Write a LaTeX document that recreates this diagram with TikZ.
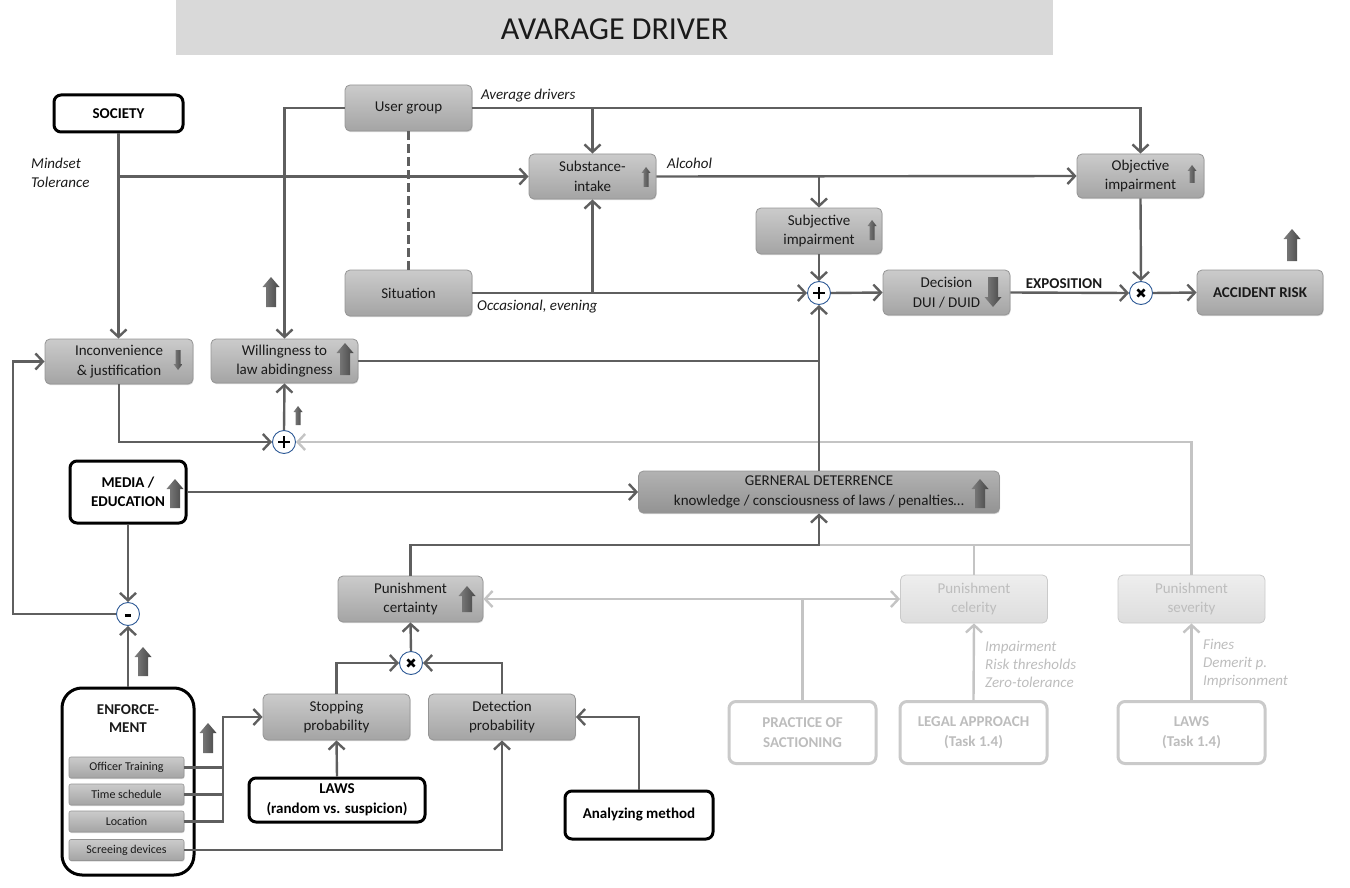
\documentclass[tikz,border=0pt]{standalone}
\usepackage{fontspec}
\setmainfont{Carlito}
\usetikzlibrary{arrows.meta,shadows}
\definecolor{ln}{HTML}{5F5F5F}
\definecolor{lt}{HTML}{C4C4C4}
\definecolor{boxtop}{HTML}{CBCBCB}
\definecolor{boxbot}{HTML}{A4A4A4}
\definecolor{boxbd}{HTML}{959595}
\definecolor{gdtop}{HTML}{B2B2B2}
\definecolor{gdbot}{HTML}{939393}
\definecolor{ftop}{HTML}{EEEEEE}
\definecolor{fbot}{HTML}{DDDDDD}
\definecolor{fbd}{HTML}{CACACA}
\definecolor{ftxt}{HTML}{BDBDBD}
\definecolor{titlebg}{HTML}{D9D9D9}
\definecolor{circ}{HTML}{2E5A96}
\definecolor{arrA}{HTML}{808080}
\definecolor{arrB}{HTML}{474747}
\definecolor{txt}{HTML}{1A1A1A}
\newcommand{\UpA}[6]{\shade[left color=arrA,right color=arrB] (#1-#4,#3) -- (#1+#4,#3) -- (#1+#4,#2+#6) -- (#1+#5,#2+#6) -- (#1,#2) -- (#1-#5,#2+#6) -- (#1-#4,#2+#6) -- cycle;}
\newcommand{\DnA}[6]{\shade[left color=arrA,right color=arrB] (#1-#4,#2) -- (#1+#4,#2) -- (#1+#4,#3-#6) -- (#1+#5,#3-#6) -- (#1,#3) -- (#1-#5,#3-#6) -- (#1-#4,#3-#6) -- cycle;}
\tikzset{
  wh/.style 2 args={minimum width=#1pt, minimum height=#2pt},
  gbox/.style={rectangle, rounded corners=5pt, top color=boxtop, bottom color=boxbot, draw=boxbd, line width=0.8pt, align=center, inner sep=0pt, text=txt,
     drop shadow={shadow xshift=0.6pt, shadow yshift=-1.2pt, opacity=0.3}},
  gdbox/.style={gbox, top color=gdtop, bottom color=gdbot},
  fbox/.style={rectangle, rounded corners=5pt, top color=ftop, bottom color=fbot, draw=fbd, line width=0.8pt, align=center, inner sep=0pt, text=ftxt},
  wbox/.style={rectangle, rounded corners=7pt, fill=white, draw=black, line width=3pt, align=center, inner sep=0pt, font=\bfseries\fontsize{15}{19.5}\selectfont},
  fwbox/.style={wbox, draw=fbd, text=ftxt},
  sbox/.style={rectangle, rounded corners=2pt, top color=boxtop, bottom color=boxbot, draw=boxbd, line width=0.6pt, inner sep=0pt, minimum width=115pt, minimum height=21pt, font=\fontsize{12}{14}\selectfont, text=txt,
     drop shadow={shadow xshift=0.5pt, shadow yshift=-1pt, opacity=0.3}},
  opn/.style={circle, draw=circ, line width=0.9pt, fill=white, minimum size=23pt, inner sep=0pt},
  plussym/.style={opn, path picture={
     \draw[line width=2.7pt,black] ([xshift=-6pt]path picture bounding box.center) -- ([xshift=6pt]path picture bounding box.center);
     \draw[line width=2.7pt,black] ([yshift=-6pt]path picture bounding box.center) -- ([yshift=6pt]path picture bounding box.center);}},
  timessym/.style={opn, path picture={
     \draw[line width=2.5pt,black] ([shift={(-3.6pt,-3.6pt)}]path picture bounding box.center) -- ([shift={(3.6pt,3.6pt)}]path picture bounding box.center);
     \draw[line width=2.5pt,black] ([shift={(-3.6pt,3.6pt)}]path picture bounding box.center) -- ([shift={(3.6pt,-3.6pt)}]path picture bounding box.center);}},
  minussym/.style={opn, path picture={
     \draw[line width=2.6pt,black] ([shift={(-3.2pt,-1.5pt)}]path picture bounding box.center) -- ([shift={(3.2pt,-1.5pt)}]path picture bounding box.center);}},
  conn/.style={draw=ln, line width=2.4pt},
  lconn/.style={draw=lt, line width=2.4pt},
  ar/.style={-{Straight Barb[length=7.5pt,width=16pt]}},
  lab/.style={font=\itshape\fontsize{15}{19}\selectfont, text=txt, inner sep=0pt},
  flab/.style={font=\itshape\fontsize{15}{18}\selectfont, text=ftxt, inner sep=0pt, align=left},
}
\begin{document}
\begin{tikzpicture}[x=1pt,y=-1pt,font=\fontsize{15}{19.5}\selectfont]
\useasboundingbox (0,0) rectangle (1350,888);
% title
\fill[titlebg] (176,0) rectangle (1053,55);
\node[font=\fontsize{32}{34}\selectfont, text=txt] (title) at (614.5,29) {AVARAGE DRIVER};

% nodes
\node[wbox, wh={129}{37}] (soc) at (118.5,113.5) {SOCIETY};
\node[lab, anchor=west, align=left, font=\itshape\fontsize{15}{19}\selectfont] (mind) at (31,172.5) {Mindset\\Tolerance};
\node[gbox, wh={127}{46}] (ug) at (408.5,108) {User group};
\node[gbox, wh={127}{45}] (subs) at (592.5,176.5) {Substance-\\intake};
\node[gbox, wh={127}{44}] (obj) at (1140.5,176) {Objective\\impairment};
\node[gbox, wh={126}{46}] (subj) at (819,231) {Subjective\\impairment};
\node[gbox, wh={127}{46}] (sit) at (408.5,293) {Situation};
\node[plussym] (p1) at (819,293) {};
\node[gbox, wh={127}{45}] (dec) at (946.5,292.5) {Decision\\DUI / DUID};
\node[timessym] (t1) at (1141,293) {};
\node[gbox, wh={126}{45}, font=\bfseries\fontsize{15}{19.5}\selectfont] (acc) at (1260,292.5) {ACCIDENT RISK};
\node[gbox, wh={148}{45}] (incon) at (119,361.5) {Inconvenience\\\& justification};
\node[gbox, wh={147}{44}] (will) at (284.5,361) {Willingness to\\law abidingness};
\node[plussym] (p2) at (284,442) {};
\node[wbox, wh={116}{62}] (media) at (128,492) {MEDIA /\\EDUCATION};
\node[gdbox, wh={361}{42}] (gd) at (819,492) {GERNERAL DETERRENCE\\knowledge / consciousness of laws / penalties…};
\node[minussym] (mn) at (128,614) {};
\node[gbox, wh={145}{46}] (pc) at (410.5,599) {Punishment\\certainty};
\node[fbox, wh={147}{48}] (cel) at (974,599) {Punishment\\celerity};
\node[fbox, wh={147}{48}] (sev) at (1191.5,599) {Punishment\\severity};
\node[timessym] (t2) at (411,663) {};
\node[gbox, wh={147}{46}] (stop) at (336.5,717) {Stopping\\probability};
\node[gbox, wh={147}{46}] (det) at (502,717) {Detection\\probability};
\node[wbox, wh={176}{44}] (laws1) at (337,800) {LAWS\\(random vs. suspicion)};
\node[wbox, wh={148}{48}] (ana) at (639,815) {Analyzing method};
\node[wbox, wh={132}{187}, rounded corners=20pt] (enf) at (128,781.5) {};
\node[font=\bfseries\fontsize{15}{18}\selectfont, align=center, text=txt] (enft) at (128,719) {ENFORCE-\\MENT};
\node[sbox] (off) at (126.5,767.5) {Officer Training};
\node[sbox] (tim) at (126.5,794.5) {Time schedule};
\node[sbox] (loc) at (126.5,821.5) {Location};
\node[sbox] (scr) at (126.5,850) {Screeing devices};
\node[fwbox, wh={147}{62}] (prac) at (802.5,732.5) {PRACTICE OF\\SACTIONING};
\node[fwbox, wh={147}{62}] (legal) at (973.5,732.5) {LEGAL APPROACH\\(Task 1.4)};
\node[fwbox, wh={147}{62}] (laws2) at (1191.5,732.5) {LAWS\\(Task 1.4)};

% labels
\node[lab, anchor=west] (avg) at (481,96) {Average drivers};
\node[lab, anchor=west] (alc) at (667,163) {Alcohol};
\node[lab, anchor=west] (occ) at (477,307) {Occasional, evening};
\node[font=\bfseries\fontsize{15}{18}\selectfont, text=txt, inner sep=0pt] (expo) at (1064,284) {EXPOSITION};
\node[flab, anchor=west] (celt) at (985,664) {Impairment\\Risk thresholds\\Zero-tolerance};
\node[flab, anchor=west] (sevt) at (1203,664) {Fines\\Demerit p.\\Imprisonment};

% light connectors
\coordinate (j1) at (819,545);
\draw[lconn,ar] (sev.north) |- (p2.east);
\draw[lconn] (j1) -- (j1 -| sev.north);
\draw[lconn] (cel.north) -- (cel.north |- j1);
\draw[lconn,{Straight Barb[length=7.5pt,width=16pt]}-{Straight Barb[length=7.5pt,width=16pt]}] (pc.east) -- (cel.west);
\draw[lconn] (prac.north) -- (prac.north |- pc.east);
\draw[lconn,ar] (legal.north) -- (cel.south);
\draw[lconn,ar] (laws2.north) -- (sev.south);

% dark connectors
\draw[conn,ar] (soc.south) -- (soc.south |- incon.north);
\draw[conn,ar] (soc.south |- subs.west) -- (subs.west);
\draw[conn,ar] (ug.west) -| (will.north);
\draw[conn,dash pattern=on 9pt off 4pt] (ug.south) -- (sit.north);
\draw[conn,ar] (ug.east) -| (obj.north);
\draw[conn,ar] (ug.east -| subs.north) -- (subs.north);
\draw[conn,ar] (subs.east) -- (obj.west);
\draw[conn,ar] (subs.east -| subj.north) -- (subj.north);
\draw[conn,ar] (subj.south) -- (p1.north);
\draw[conn,ar] (sit.east) -- (p1.west);
\draw[conn,ar] (sit.east -| subs.south) -- (subs.south);
\draw[conn,ar] (p1.east) -- (dec.west);
\draw[conn,ar] (dec.east) -- (t1.west);
\draw[conn,ar] (obj.south) -- (t1.north);
\draw[conn,ar] (t1.east) -- (acc.west);
\draw[conn] (will.east) -- (will.east -| gd.north);
\draw[conn,ar] (gd.north) -- (p1.south);
\draw[conn,ar] (media.east) -- (gd.west);
\draw[conn,ar] (incon.south) |- (p2.west);
\draw[conn,ar] (p2.north) -- (will.south);
\draw[conn,ar] (pc.north) |- (j1) -- (gd.south);
\draw[conn,ar] (media.south) -- (mn.north);
\draw[conn,ar] (enf.north) -- (mn.south);
\coordinate (lft) at (13,614);
\draw[conn,ar] (mn.west) -- (lft) |- (incon.west);
\draw[conn,ar] (t2.north) -- (pc.south);
\draw[conn,ar] (stop.north) |- (t2.west);
\draw[conn,ar] (det.north) |- (t2.east);
\draw[conn,ar] (laws1.north) -- (stop.south);
\draw[conn,ar] (ana.north) |- (det.east);
\coordinate (ej) at (223,717);
\draw[conn,ar] (loc.east) -| (ej) -- (stop.west);
\draw[conn] (off.east) -- (off.east -| ej);
\draw[conn] (tim.east) -- (tim.east -| ej);
\draw[conn,ar] (scr.east) -| (det.south);

% block arrows (trend indicators)
\UpA{271}{277}{307}{5}{8.5}{10}
\UpA{345}{343}{375}{5}{8.5}{10}
\UpA{980}{479}{508}{5}{8.5}{10}
\UpA{467}{586}{612}{5}{8.5}{10}
\UpA{175}{479}{508}{5}{8.5}{10}
\UpA{1292}{229}{261}{5}{8.5}{10}
\DnA{993}{277}{307}{5}{8.5}{10}
\UpA{143}{647}{676}{5}{8.5}{10}
\UpA{208}{723}{753}{5}{8.5}{10}
\UpA{646}{167}{187}{2.5}{4.5}{6}
\UpA{872}{220}{240}{2.5}{4.5}{6}
\UpA{1192}{165}{183}{2.5}{4.5}{6}
\DnA{178}{350}{370}{2.5}{4.5}{6}
\UpA{298}{406}{425}{2.5}{4.5}{6}
\end{tikzpicture}
\end{document}
